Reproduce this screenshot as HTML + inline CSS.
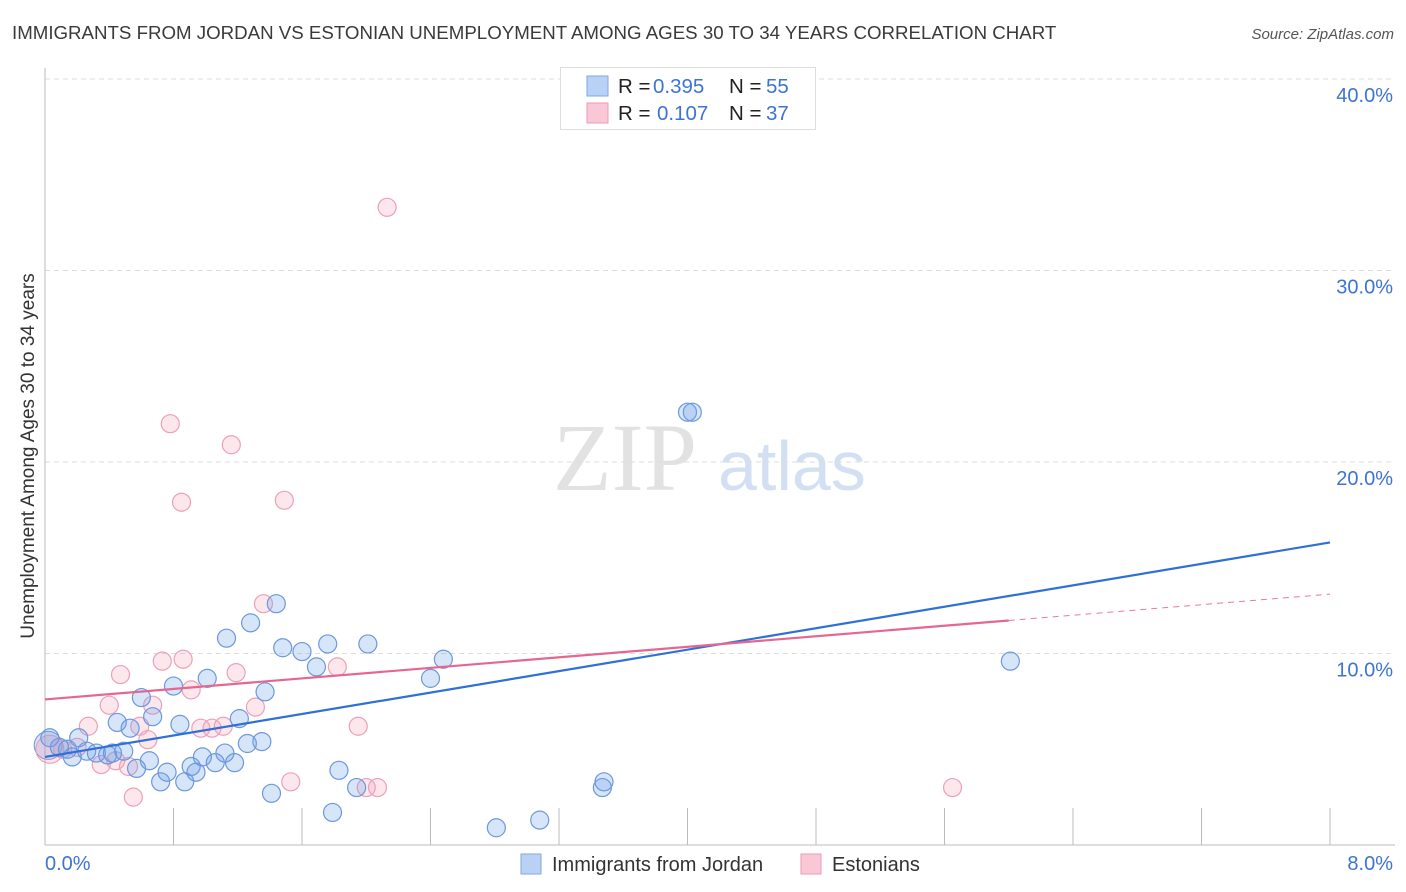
<!DOCTYPE html>
<html><head><meta charset="utf-8"><style>
body{margin:0;background:#fff;font-family:"Liberation Sans",sans-serif;}
svg{display:block}
</style></head><body>
<svg id="chart" width="1406" height="892">
<text x="12" y="39" font-size="18.7" fill="#3a3a3a">IMMIGRANTS FROM JORDAN VS ESTONIAN UNEMPLOYMENT AMONG AGES 30 TO 34 YEARS CORRELATION CHART</text>
<text x="1394" y="39" font-size="15" fill="#555" font-style="italic" text-anchor="end">Source: ZipAtlas.com</text>
<g>
<text x="553" y="490" font-size="96" font-family="Liberation Serif,serif" fill="#e2e2e2">ZIP</text>
<text x="718" y="490" font-size="70" fill="#d3e0f3">atlas</text>
</g>
<g id="grid"></g>
<g id="axes"></g>
<g id="pts"></g>
<g id="lines"></g>
<text transform="translate(34,456) rotate(-90)" font-size="19" fill="#333" text-anchor="middle">Unemployment Among Ages 30 to 34 years</text>
<g>
<rect x="560.5" y="67.5" width="255" height="62" fill="#fff" stroke="#ddd"/>
<rect x="587" y="76" width="21" height="20" fill="#b9d1f4" stroke="#7ea7e5"/>
<rect x="587" y="103" width="21" height="20" fill="#f9c8d6" stroke="#ec9ab4"/>
<text y="93" font-size="20.5" fill="#222"><tspan x="618">R = </tspan><tspan x="653" fill="#3d74d4">0.395</tspan><tspan x="729">N = </tspan><tspan x="766" fill="#3d74d4">55</tspan></text>
<text y="120" font-size="20.5" fill="#222"><tspan x="618">R = </tspan><tspan x="657" fill="#3d74d4">0.107</tspan><tspan x="729">N = </tspan><tspan x="766" fill="#3d74d4">37</tspan></text>
</g>
<g>
<rect x="521" y="854" width="20" height="20" fill="#b9d1f4" stroke="#7ea7e5"/>
<text x="552" y="871" font-size="20" fill="#333">Immigrants from Jordan</text>
<rect x="801" y="854" width="20" height="20" fill="#f9c8d6" stroke="#ec9ab4"/>
<text x="832" y="871" font-size="20" fill="#333">Estonians</text>
</g>
</svg>
<script>
const blueX=[0.03,0.09,0.14,0.17,0.26,0.32,0.39,0.42,0.21,0.49,0.45,0.53,0.60,0.67,0.65,0.57,0.80,0.84,0.72,0.76,0.87,0.91,0.94,0.98,1.01,1.06,1.12,1.18,1.13,1.21,1.26,1.35,1.28,1.37,1.41,1.44,1.48,1.60,1.69,1.76,1.83,1.79,1.94,2.01,2.40,2.48,2.81,3.08,3.47,3.48,4.00,4.03,6.01];
const blueY=[5.6,5.1,5.0,4.6,4.9,4.8,4.7,4.8,5.6,4.9,6.4,6.1,7.7,6.7,4.4,4.0,8.3,6.3,3.3,3.8,3.3,4.1,3.8,4.6,8.7,4.3,4.8,4.3,10.8,6.6,5.3,5.4,11.6,8.0,2.7,12.6,10.3,10.1,9.3,10.5,3.9,1.7,3.0,10.5,8.7,9.7,0.9,1.3,3.0,3.3,22.6,22.6,9.6];
const pinkX=[0.11,0.20,2.13,0.78,1.16,0.85,1.49,1.36,0.73,0.86,0.47,1.19,1.82,0.91,0.40,0.67,1.31,0.27,0.59,0.97,1.04,1.11,1.95,0.64,0.35,0.44,0.52,1.53,2.00,2.07,0.55,5.65];
const pinkY=[5.0,5.1,33.3,22.0,20.9,17.9,18.0,12.6,9.6,9.7,8.9,9.0,9.3,8.1,7.3,7.3,7.2,6.2,6.2,6.1,6.1,6.2,6.2,5.5,4.2,4.4,4.1,3.3,3.0,3.0,2.5,3.0];
const bigX=[0.02,0.03];
const bigY=[5.2,5.0];
const blueLine=[4.6,15.8];
const pinkLine=[7.6,13.1];
const pinkSolidEnd=6.0;
const yTicks=[10,20,30,40];
const yTickLabels=["10.0%","20.0%","30.0%","40.0%"];
const xTickCount=10;

const NS="http://www.w3.org/2000/svg";
const sx=v=>45+v/8*1285;
const sy=v=>845-v*19.15;
function mk(tag,attrs,parent){const e=document.createElementNS(NS,tag);for(const k in attrs)e.setAttribute(k,attrs[k]);document.getElementById(parent).appendChild(e);return e;}

yTicks.forEach((t,i)=>{
 const l=mk('line',{x1:45,x2:1395,y1:sy(t),y2:sy(t),stroke:'#ddd','stroke-dasharray':'5,4'},'grid');
 
 
 const tx=mk('text',{x:1393,y:sy(t)+23,'font-size':20,fill:'#3d74d4','text-anchor':'end'},'grid');
 tx.textContent=yTickLabels[i];
 
 
});
const ax=mk('line',{x1:45,x2:45,y1:68,y2:845,stroke:'#bbb'},'axes');


const bx=mk('line',{x1:45,x2:1395,y1:845,y2:845,stroke:'#bbb'},'axes');


for(let i=1;i<=xTickCount;i++){
 const t=mk('line',{x1:sx(i*0.8),x2:sx(i*0.8),y1:808,y2:845,stroke:'#bbb'},'axes');
 
 
}
const x0=mk('text',{x:45,y:870,'font-size':20,fill:'#3d74d4'},'axes');x0.textContent='0.0%';


const x8=mk('text',{x:1393,y:870,'font-size':20,fill:'#3d74d4','text-anchor':'end'},'axes');x8.textContent='8.0%';



bigX.forEach((v,i)=>{
 const c=mk('circle',{cx:sx(v),cy:sy(bigY[i]),r:14,fill:i?'rgba(240,140,170,0.25)':'rgba(100,150,230,0.25)',stroke:i?'#e99bb5':'#6b98de'},'pts');
 
 
});
pinkX.forEach((v,i)=>{
 const c=mk('circle',{cx:sx(v),cy:sy(pinkY[i]),r:9,fill:'rgba(245,160,185,0.25)',stroke:'#eba0b9','stroke-width':1.2},'pts');
 
 
});
blueX.forEach((v,i)=>{
 const c=mk('circle',{cx:sx(v),cy:sy(blueY[i]),r:9,fill:'rgba(110,160,230,0.28)',stroke:'#6b98de','stroke-width':1.2},'pts');
 
 
});
const pAt=x=>pinkLine[0]+(pinkLine[1]-pinkLine[0])*x/8;
const pd=mk('line',{x1:sx(pinkSolidEnd),y1:sy(pAt(pinkSolidEnd)),x2:sx(8),y2:sy(pinkLine[1]),stroke:'#e8799e','stroke-width':1,'stroke-dasharray':'6,5'},'lines');


const bl=mk('line',{x1:sx(0),y1:sy(blueLine[0]),x2:sx(8),y2:sy(blueLine[1]),stroke:'#2f6fd6','stroke-width':2.2},'lines');


const pl=mk('line',{x1:sx(0),y1:sy(pinkLine[0]),x2:sx(pinkSolidEnd),y2:sy(pAt(pinkSolidEnd)),stroke:'#e5678f','stroke-width':2.2},'lines');


</script>
</body></html>
